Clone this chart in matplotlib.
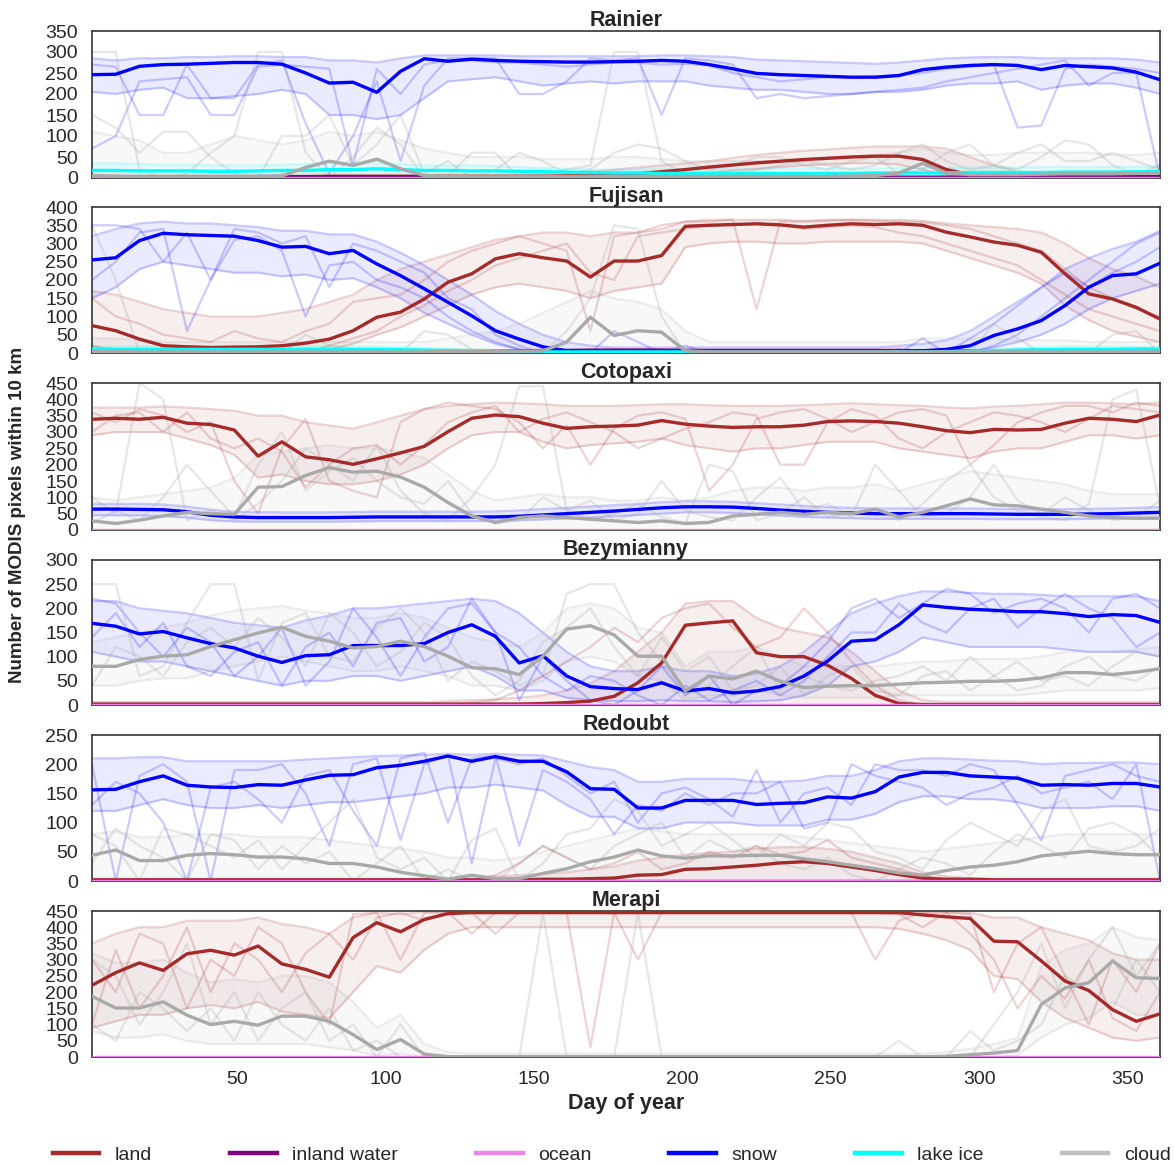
import matplotlib
matplotlib.use("Agg")
import matplotlib.pyplot as plt
from matplotlib.lines import Line2D

plt.rcParams["font.family"] = ["Liberation Sans", "DejaVu Sans"]

# 8-day composite periods (day of year)
DAYS = list(range(1, 362, 8))

CLASSES = ["land", "inland water", "ocean", "snow", "lake ice", "cloud"]
COLORS = {
    "land": "#a52a2a",
    "inland water": "#800080",
    "ocean": "#ee82ee",
    "snow": "#0000ff",
    "lake ice": "#00ffff",
    "cloud": "#a9a9a9",
}

VOLCANOES = ["Rainier", "Fujisan", "Cotopaxi", "Bezymianny", "Redoubt", "Merapi"]
YMAX = [350, 400, 450, 300, 250, 450]

ZERO = [0, 0, 0, 0, 0, 0, 0, 0, 0, 0, 0, 0, 0, 0, 0, 0, 0, 0, 0, 0, 0, 0, 0,
        0, 0, 0, 0, 0, 0, 0, 0, 0, 0, 0, 0, 0, 0, 0, 0, 0, 0, 0, 0, 0, 0, 0]

# ---------------- Rainier ----------------
RAINIER_SNOW = [246, 247, 266, 270, 271, 273, 275, 275, 271, 250,
                226, 228, 204, 254, 284, 278, 283, 280, 278, 277,
                276, 276, 277, 278, 280, 278, 270, 260, 249, 246,
                244, 242, 240, 240, 244, 258, 264, 268, 270, 268,
                258, 268, 265, 262, 252, 234]
RAINIER_LAND = [3, 3, 3, 3, 3, 3, 3, 3, 3, 3, 4, 4, 4, 4, 4, 4, 4, 4, 4, 4,
                5, 5, 6, 10, 15, 20, 26, 31, 36, 40, 44, 47, 50, 52, 52, 44,
                20, 8, 5, 4, 4, 3, 3, 3, 3, 3]
RAINIER_CLOUD = [5, 4, 3, 3, 3, 3, 3, 4, 5, 25, 40, 30, 45, 22, 6,
                 4, 3, 3, 3, 3, 3, 3, 4, 4, 4, 4, 4, 4, 4, 4, 4, 4, 5, 6,
                 12, 35, 12, 8, 8, 8, 9, 10, 10, 10, 11, 12]
RAINIER_ICE = [18, 18, 17, 17, 17, 16, 16, 17, 18, 18, 20, 20, 22, 20, 18,
               18, 17, 17, 16, 15, 14, 13, 12, 12, 11, 11, 11, 11, 11, 11,
               11, 11, 11, 12, 12, 12, 12, 13, 13, 13, 13, 14, 14, 14, 15, 15]
RAINIER_WATER = [3, 3, 3, 3, 3, 3, 3, 3, 3, 3, 3, 3, 3, 3, 3, 3, 3, 3, 3, 3,
                 2, 2, 2, 2, 2, 2, 2, 2, 2, 2, 2, 2, 2, 2, 2, 2, 2,
                 3, 3, 3, 3, 3, 3, 3, 3, 3]

RAINIER_SNOW_LO = [205, 200, 210, 215, 190, 190, 195, 200, 210, 200,
                   150, 150, 140, 150, 190, 230, 235, 240, 230, 220,
                   225, 230, 225, 230, 230, 230, 220, 215, 210, 210,
                   205, 200, 200, 205, 205, 210, 220, 225, 225, 230,
                   210, 220, 225, 225, 215, 200]
RAINIER_SNOW_HI = [285, 280, 285, 285, 288, 288, 290, 290, 288, 288,
                   280, 280, 275, 285, 292, 292, 292, 292, 290, 290,
                   290, 290, 290, 290, 292, 292, 290, 288, 282, 280,
                   278, 276, 274, 272, 275, 280, 285, 287, 288, 288,
                   285, 285, 285, 285, 282, 275]
RAINIER_CLOUD_HI = [110, 100, 90, 60, 60, 80, 100, 90, 80, 90,
                    110, 100, 110, 90, 70, 60, 50, 50, 50, 45,
                    45, 45, 50, 50, 45, 40, 40, 40, 40, 40,
                    40, 45, 50, 55, 60, 70, 60, 55, 55, 60,
                    60, 60, 60, 55, 55, 60]
RAINIER_ICE_HI = [35, 35, 33, 32, 32, 30, 30, 30, 32, 33,
                  35, 35, 35, 33, 30, 30, 30, 28, 26, 24,
                  22, 20, 20, 20, 20, 20, 20, 20, 20, 22,
                  22, 22, 22, 22, 24, 24, 24, 25, 25, 25,
                  26, 26, 26, 27, 27, 28]
RAINIER_LAND_LO = [0, 0, 0, 0, 0, 0, 0, 0, 0, 0, 0, 0, 0, 0, 0, 0, 0, 0, 0, 0,
                   0, 0, 0, 2, 5, 8, 12, 18, 22, 26, 30, 33, 35, 35, 32, 20,
                   5, 0, 0, 0, 0, 0, 0, 0, 0, 0]
RAINIER_LAND_HI = [8, 8, 8, 8, 8, 8, 8, 8, 8, 8, 8, 8, 8, 8, 8, 8, 8, 8, 8, 10,
                   12, 15, 20, 25, 30, 35, 40, 48, 55, 60, 65, 68, 72, 75, 75,
                   75, 70, 50, 30, 15, 10, 8, 8, 8, 8, 8]

# single years that stray far from the mean
RAINIER_SNOW_Y1 = [70, 100, 230, 235, 240, 150, 150, 265, 270, 265,
                   260, 30, 260, 200, 270, 280, 280, 275, 275, 270,
                   265, 270, 275, 275, 270, 272, 268, 250, 240, 230,
                   235, 240, 240, 242, 245, 250, 260, 265, 270, 120,
                   125, 260, 270, 265, 260, 250]
RAINIER_SNOW_Y2 = [270, 265, 150, 150, 270, 190, 190, 270, 280, 130,
                   10, 100, 230, 40, 220, 285, 285, 285, 200, 200,
                   230, 285, 280, 285, 150, 285, 280, 270, 190, 200,
                   190, 195, 200, 205, 210, 215, 230, 240, 250, 260,
                   270, 280, 220, 250, 250, 0]
RAINIER_CLOUD_Y1 = [300, 300, 20, 0, 10, 60, 100, 300, 300, 60,
                    0, 50, 120, 80, 0, 5, 60, 60, 0, 10,
                    20, 30, 300, 300, 40, 10, 10, 10, 20, 30,
                    40, 30, 20, 30, 60, 80, 40, 20, 30, 60,
                    80, 40, 40, 60, 40, 20]
RAINIER_CLOUD_Y2 = [150, 120, 60, 110, 110, 50, 10, 0, 100, 100,
                    150, 30, 80, 150, 10, 40, 0, 20, 60, 40,
                    10, 20, 60, 80, 70, 40, 20, 30, 50, 50,
                    30, 20, 40, 50, 10, 20, 60, 80, 30, 20,
                    50, 90, 80, 30, 10, 30]

# ---------------- Fujisan ----------------
FUJISAN_SNOW = [255, 261, 308, 328, 324, 322, 320, 308, 290, 292,
                272, 281, 244, 212, 176, 139, 102, 61, 38, 17,
                6, 4, 3, 3, 3, 3, 3, 3, 3, 3,
                3, 3, 3, 3, 4, 6, 10, 20, 48, 66,
                89, 130, 180, 212, 217, 246]
FUJISAN_LAND = [75, 61, 38, 20, 17, 15, 16, 17, 20, 27,
                38, 61, 98, 112, 148, 194, 217, 258, 272, 261,
                252, 208, 252, 252, 267, 347, 350, 352, 354, 351,
                345, 350, 354, 352, 354, 350, 331, 318, 304, 295,
                276, 217, 162, 148, 125, 93]
FUJISAN_CLOUD = [4, 4, 3, 3, 3, 3, 3, 3, 3, 3, 3, 3, 3, 3, 3, 4, 4, 5, 5, 6,
                 30, 98, 48, 61, 57, 6, 3, 3, 3, 3, 3, 3, 3, 3, 3, 3, 3, 3,
                 3, 3, 3, 3, 3, 3, 3, 3]
FUJISAN_ICE = [10, 10, 10, 10, 10, 10, 10, 10, 10, 10, 10, 10, 10, 9, 8, 7,
               6, 5, 4, 3, 3, 3, 3, 3, 3, 3, 3, 3, 3, 3, 3, 3, 3, 3, 3, 3,
               4, 5, 6, 8, 9, 10, 10, 10, 11, 11]
FUJISAN_WATER = [2, 2, 2, 2, 2, 2, 2, 2, 2, 2, 2, 2, 2, 2, 3, 3, 4, 5, 6, 7,
                 7, 8, 8, 8, 8, 7, 7, 7, 7, 7, 7, 7, 7, 7, 7, 6, 6, 5, 4, 3,
                 2, 2, 2, 2, 2, 2]

FUJISAN_SNOW_LO = [150, 180, 230, 250, 240, 230, 220, 220, 210, 215,
                   200, 205, 180, 150, 110, 80, 50, 25, 10, 3,
                   0, 0, 0, 0, 0, 0, 0, 0, 0, 0,
                   0, 0, 0, 0, 0, 0, 0, 3, 15, 30,
                   50, 80, 120, 150, 170, 190]
FUJISAN_SNOW_HI = [320, 340, 355, 360, 355, 355, 350, 345, 335, 335,
                   325, 325, 305, 275, 240, 200, 160, 115, 80, 50,
                   30, 20, 15, 15, 15, 15, 15, 15, 15, 15,
                   15, 15, 15, 15, 20, 25, 35, 60, 100, 140,
                   180, 230, 260, 285, 305, 335]
FUJISAN_LAND_LO = [20, 10, 5, 0, 0, 0, 0, 0, 0, 5,
                   10, 25, 50, 70, 100, 130, 160, 180, 190, 180,
                   170, 150, 170, 180, 190, 290, 300, 305, 305, 300,
                   300, 305, 305, 305, 305, 300, 280, 260, 240, 220,
                   190, 130, 90, 60, 45, 30]
FUJISAN_LAND_HI = [170, 160, 140, 120, 110, 100, 100, 100, 110, 120,
                   140, 160, 200, 230, 250, 270, 290, 310, 320, 330,
                   330, 320, 330, 330, 340, 360, 365, 365, 365, 365,
                   362, 365, 365, 365, 365, 362, 355, 350, 345, 340,
                   330, 300, 260, 230, 210, 180]
FUJISAN_CLOUD_HI = [40, 40, 35, 30, 30, 30, 30, 30, 30, 30,
                    30, 30, 30, 30, 30, 40, 50, 60, 80, 110,
                    140, 170, 150, 140, 120, 60, 30, 30, 30, 30,
                    30, 30, 30, 30, 30, 40, 40, 40, 40, 35,
                    35, 35, 30, 30, 30, 30]
FUJISAN_ICE_HI = [18, 18, 18, 18, 18, 18, 18, 18, 18, 18,
                  18, 18, 18, 16, 14, 12, 10, 8, 7, 6,
                  6, 6, 6, 6, 6, 6, 6, 6, 6, 6,
                  6, 6, 6, 6, 6, 6, 8, 10, 12, 14,
                  16, 18, 18, 18, 18, 18]

FUJISAN_SNOW_Y1 = [350, 350, 340, 250, 330, 200, 340, 330, 300, 320,
                   180, 300, 280, 250, 220, 150, 120, 50, 20, 0,
                   0, 0, 0, 0, 0, 20, 0, 0, 0, 0,
                   0, 0, 0, 0, 0, 40, 0, 0, 20, 50,
                   100, 150, 200, 250, 300, 330]
FUJISAN_SNOW_Y2 = [200, 250, 330, 340, 60, 200, 310, 320, 280, 100,
                   240, 250, 200, 180, 150, 100, 60, 30, 10, 0,
                   0, 0, 60, 30, 0, 0, 0, 0, 0, 0,
                   0, 0, 0, 0, 10, 0, 0, 40, 80, 130,
                   180, 220, 180, 220, 250, 290]
FUJISAN_LAND_Y1 = [150, 100, 80, 50, 40, 30, 60, 40, 30, 60,
                   80, 140, 150, 160, 200, 250, 280, 300, 320, 300,
                   280, 60, 320, 330, 350, 360, 360, 365, 120, 360,
                   360, 362, 365, 362, 360, 358, 350, 340, 320, 300,
                   280, 230, 180, 150, 120, 100]
FUJISAN_LAND_Y2 = [20, 0, 0, 0, 0, 0, 0, 10, 0, 0,
                   20, 40, 60, 100, 130, 170, 200, 240, 260, 280,
                   300, 220, 200, 320, 330, 340, 350, 350, 355, 350,
                   340, 345, 350, 345, 330, 320, 300, 280, 260, 240,
                   200, 160, 120, 100, 80, 60]
FUJISAN_CLOUD_Y1 = [350, 200, 0, 0, 0, 0, 20, 0, 0, 50,
                    20, 10, 0, 0, 60, 50, 10, 0, 0, 0,
                    60, 150, 350, 340, 100, 0, 0, 0, 0, 0,
                    0, 0, 0, 0, 0, 0, 0, 0, 80, 40,
                    0, 0, 0, 50, 60, 0]

# ---------------- Cotopaxi ----------------
COTOPAXI_LAND = [339, 342, 339, 345, 327, 323, 306, 226, 270, 224,
                 215, 201, 218, 236, 256, 301, 342, 352, 347, 327,
                 311, 316, 318, 321, 335, 324, 318, 314, 316, 316,
                 321, 332, 334, 332, 327, 316, 304, 298, 308, 306,
                 308, 327, 342, 339, 332, 352]
COTOPAXI_CLOUD = [28, 20, 30, 43, 54, 50, 48, 131, 133, 167,
                  191, 177, 180, 162, 131, 84, 43, 23, 38, 43,
                  38, 33, 28, 23, 28, 20, 23, 43, 48, 54,
                  48, 54, 50, 64, 40, 54, 74, 95, 77, 74,
                  64, 54, 43, 38, 36, 36]
COTOPAXI_SNOW = [64, 64, 63, 62, 56, 45, 40, 38, 38, 38,
                 38, 39, 40, 40, 40, 40, 40, 40, 42, 46,
                 50, 54, 58, 63, 68, 71, 71, 70, 66, 61,
                 57, 54, 52, 50, 50, 50, 50, 50, 49, 48,
                 48, 48, 49, 50, 52, 54]

COTOPAXI_LAND_LO = [290, 300, 300, 300, 280, 260, 230, 160, 170, 150,
                    140, 140, 150, 170, 200, 250, 290, 300, 300, 270,
                    250, 260, 265, 270, 280, 260, 250, 240, 250, 250,
                    260, 270, 270, 270, 250, 240, 230, 220, 240, 250,
                    250, 270, 290, 290, 280, 290]
COTOPAXI_LAND_HI = [375, 375, 375, 378, 375, 370, 365, 350, 350, 330,
                    320, 310, 330, 350, 370, 380, 385, 390, 388, 385,
                    380, 380, 380, 382, 385, 385, 382, 380, 380, 380,
                    382, 385, 388, 385, 382, 380, 375, 372, 378, 380,
                    385, 390, 390, 388, 385, 390]
COTOPAXI_CLOUD_HI = [100, 90, 100, 110, 120, 130, 160, 230, 240, 250,
                     260, 250, 250, 240, 220, 170, 120, 90, 100, 110,
                     100, 100, 90, 90, 100, 90, 100, 120, 130, 130,
                     120, 130, 130, 140, 120, 140, 160, 180, 170, 160,
                     150, 140, 120, 110, 110, 110]
COTOPAXI_SNOW_LO = [45, 45, 45, 42, 38, 30, 26, 25, 25, 25,
                    25, 26, 27, 27, 27, 27, 27, 28, 30, 32,
                    35, 38, 42, 46, 50, 54, 54, 52, 48, 44,
                    40, 38, 36, 34, 34, 34, 34, 34, 33, 33,
                    33, 33, 34, 35, 36, 38]
COTOPAXI_SNOW_HI = [80, 80, 80, 78, 72, 62, 56, 55, 54, 54,
                    54, 55, 56, 56, 56, 56, 56, 57, 60, 64,
                    68, 72, 76, 80, 85, 88, 88, 86, 82, 78,
                    74, 70, 68, 66, 66, 66, 66, 66, 65, 64,
                    64, 64, 65, 66, 68, 70]

COTOPAXI_LAND_Y1 = [360, 330, 370, 350, 300, 330, 150, 50, 250, 340,
                    150, 120, 100, 330, 370, 390, 380, 370, 330, 250,
                    320, 200, 310, 350, 360, 340, 120, 200, 340, 360,
                    370, 340, 300, 330, 360, 370, 350, 200, 260, 330,
                    360, 380, 380, 360, 390, 380]
COTOPAXI_LAND_Y2 = [300, 350, 360, 300, 360, 280, 250, 280, 240, 130,
                    200, 250, 260, 200, 260, 330, 360, 380, 300, 340,
                    360, 330, 300, 250, 280, 310, 330, 360, 350, 200,
                    200, 330, 370, 350, 280, 250, 300, 330, 360, 350,
                    330, 300, 340, 380, 370, 360]
COTOPAXI_CLOUD_Y1 = [100, 50, 450, 400, 30, 60, 30, 80, 150, 250,
                     200, 150, 260, 120, 50, 30, 100, 200, 440, 440,
                     60, 30, 50, 80, 40, 20, 200, 180, 30, 50,
                     100, 40, 50, 60, 30, 80, 150, 200, 100, 60,
                     40, 30, 80, 400, 430, 70]
COTOPAXI_CLOUD_Y2 = [20, 60, 30, 100, 200, 120, 40, 200, 300, 120,
                     180, 220, 150, 100, 80, 150, 50, 20, 30, 100,
                     60, 90, 30, 50, 150, 60, 40, 30, 100, 160,
                     60, 80, 40, 200, 120, 40, 50, 100, 200, 90,
                     50, 100, 60, 30, 40, 90]

# ---------------- Bezymianny ----------------
BEZYMIANNY_SNOW = [169, 163, 147, 152, 139, 127, 118, 101, 88, 102,
                   104, 123, 123, 123, 127, 150, 166, 142, 87, 102,
                   60, 38, 34, 32, 46, 29, 34, 25, 29, 38,
                   60, 91, 132, 135, 166, 207, 202, 198, 196, 193,
                   193, 189, 183, 187, 185, 171]
BEZYMIANNY_CLOUD = [80, 80, 94, 101, 104, 121, 135, 149, 161, 142,
                    132, 118, 121, 132, 121, 101, 77, 75, 63, 101,
                    157, 164, 145, 101, 101, 29, 60, 54, 70, 49,
                    36, 39, 40, 40, 43, 46, 47, 49, 49, 51,
                    56, 67, 67, 63, 68, 75]
BEZYMIANNY_LAND = [2, 2, 2, 2, 2, 2, 2, 2, 2, 2, 2, 2, 2, 2, 2, 2, 2, 2, 2, 3,
                   5, 8, 18, 46, 87, 165, 170, 174, 108, 100,
                   100, 82, 55, 20, 3, 1, 1, 1, 1, 1, 1, 1, 1, 1, 1, 1]

BEZYMIANNY_SNOW_LO = [110, 100, 90, 90, 80, 70, 60, 50, 40, 50,
                      50, 60, 60, 50, 60, 70, 80, 60, 30, 30,
                      15, 10, 8, 8, 10, 8, 8, 6, 8, 10,
                      20, 40, 80, 90, 110, 140, 130, 120, 120, 120,
                      120, 115, 110, 110, 110, 100]
BEZYMIANNY_SNOW_HI = [215, 215, 200, 195, 190, 180, 170, 165, 160, 175,
                      185, 200, 200, 205, 210, 215, 220, 215, 190, 150,
                      110, 80, 70, 70, 80, 70, 70, 60, 65, 80,
                      110, 150, 190, 210, 225, 235, 235, 232, 230, 230,
                      228, 225, 225, 225, 225, 215]
BEZYMIANNY_CLOUD_LO = [40, 40, 50, 55, 55, 70, 80, 90, 100, 90,
                       80, 70, 70, 80, 70, 60, 40, 40, 30, 50,
                       90, 100, 90, 60, 50, 10, 20, 20, 30, 20,
                       15, 15, 15, 15, 20, 20, 20, 20, 20, 20,
                       25, 30, 30, 30, 30, 35]
BEZYMIANNY_CLOUD_HI = [130, 140, 150, 160, 170, 185, 195, 200, 205, 195,
                       190, 180, 180, 190, 180, 160, 140, 130, 120, 150,
                       200, 210, 200, 160, 150, 80, 110, 110, 120, 100,
                       80, 80, 80, 80, 85, 90, 90, 95, 95, 95,
                       100, 110, 110, 110, 115, 120]
BEZYMIANNY_LAND_HI = [6, 6, 6, 6, 6, 6, 6, 6, 6, 6, 6, 6, 6, 6, 6, 8, 10, 12,
                      15, 20, 30, 45, 70, 110, 150, 210, 215, 215, 180, 160,
                      150, 140, 110, 70, 30, 10, 6, 6, 6, 6, 6, 6, 6, 6, 6, 6]

BEZYMIANNY_SNOW_Y1 = [220, 210, 150, 100, 160, 130, 60, 100, 160, 40,
                      90, 200, 140, 60, 140, 200, 210, 150, 10, 100,
                      50, 10, 0, 30, 80, 20, 60, 0, 30, 40,
                      80, 130, 200, 220, 180, 210, 240, 230, 190, 210,
                      220, 200, 150, 220, 230, 200]
BEZYMIANNY_SNOW_Y2 = [140, 190, 120, 170, 80, 60, 110, 130, 40, 120,
                      150, 80, 170, 180, 90, 120, 220, 150, 120, 60,
                      30, 60, 50, 20, 0, 40, 10, 30, 50, 20,
                      50, 100, 150, 150, 210, 170, 150, 200, 220, 160,
                      200, 230, 200, 180, 120, 150]
BEZYMIANNY_CLOUD_Y1 = [250, 250, 60, 80, 170, 250, 250, 50, 170, 190,
                       100, 90, 160, 200, 150, 50, 90, 70, 40, 60,
                       230, 250, 250, 150, 90, 20, 40, 80, 120, 30,
                       60, 40, 30, 50, 60, 80, 50, 100, 60, 30,
                       40, 80, 100, 60, 50, 80]
BEZYMIANNY_CLOUD_Y2 = [40, 120, 100, 60, 130, 160, 120, 180, 140, 80,
                       190, 150, 80, 110, 170, 140, 60, 20, 50, 130,
                       160, 200, 120, 60, 140, 70, 100, 30, 40, 80,
                       20, 60, 80, 30, 20, 60, 70, 30, 60, 90,
                       50, 60, 40, 80, 110, 100]
BEZYMIANNY_LAND_Y1 = [0, 0, 0, 0, 0, 0, 0, 0, 0, 0,
                      0, 0, 0, 0, 0, 0, 5, 10, 30, 60,
                      90, 120, 160, 130, 180, 200, 210, 160, 120, 140,
                      200, 150, 90, 40, 10, 0, 0, 0, 0, 0,
                      0, 0, 0, 0, 0, 0]

# ---------------- Redoubt ----------------
REDOUBT_SNOW = [156, 157, 170, 180, 164, 161, 160, 165, 164, 173,
                181, 182, 194, 198, 205, 214, 205, 213, 205, 205,
                187, 158, 157, 125, 125, 138, 138, 138, 131, 133,
                134, 144, 142, 153, 178, 186, 186, 180, 178, 176,
                164, 165, 164, 167, 167, 161]
REDOUBT_CLOUD = [44, 53, 35, 35, 44, 47, 45, 41, 41, 38,
                 30, 30, 24, 15, 9, 3, 10, 4, 4, 13,
                 21, 33, 41, 53, 43, 39, 43, 43, 44, 44,
                 38, 33, 27, 21, 14, 10, 18, 24, 27, 33,
                 43, 47, 51, 47, 45, 45]
REDOUBT_LAND = [2, 2, 2, 2, 2, 2, 2, 2, 2, 2, 2, 2, 2, 2, 2, 2, 2, 2, 2, 3,
                3, 4, 5, 10, 11, 20, 21, 24, 27, 31, 33, 30, 24, 18, 11, 5,
                3, 3, 2, 2, 2, 2, 2, 2, 2, 2]

REDOUBT_SNOW_LO = [120, 120, 130, 140, 130, 125, 125, 130, 125, 130,
                   135, 135, 140, 145, 150, 160, 160, 165, 160, 155,
                   130, 110, 110, 90, 90, 100, 100, 100, 95, 95,
                   95, 105, 105, 115, 135, 145, 145, 140, 140, 135,
                   125, 125, 125, 128, 128, 120]
REDOUBT_SNOW_HI = [210, 210, 212, 212, 205, 205, 205, 205, 205, 208,
                   210, 212, 214, 215, 216, 218, 216, 218, 216, 215,
                   205, 195, 190, 170, 170, 175, 175, 175, 170, 170,
                   172, 180, 180, 190, 205, 210, 210, 208, 206, 205,
                   200, 202, 202, 203, 203, 200]
REDOUBT_CLOUD_HI = [80, 85, 75, 75, 80, 80, 80, 75, 75, 75,
                    70, 65, 60, 55, 50, 40, 40, 35, 40, 50,
                    60, 70, 80, 90, 85, 80, 80, 80, 80, 80,
                    75, 70, 65, 60, 55, 50, 55, 60, 65, 70,
                    75, 80, 80, 80, 80, 80]
REDOUBT_LAND_HI = [4, 4, 4, 4, 4, 4, 4, 4, 4, 4, 4, 4, 4, 4, 4, 5, 6, 8, 10,
                   12, 15, 20, 25, 35, 40, 45, 48, 50, 55, 58, 58, 55, 50,
                   40, 30, 15, 8, 5, 4, 4, 4, 4, 4, 4, 4, 4]

REDOUBT_SNOW_Y1 = [200, 0, 180, 200, 170, 0, 190, 190, 200, 150,
                   60, 200, 210, 70, 200, 215, 30, 210, 200, 210,
                   180, 150, 170, 100, 150, 160, 140, 110, 190, 100,
                   150, 160, 130, 200, 190, 190, 180, 200, 190, 130,
                   70, 180, 190, 200, 180, 170]
REDOUBT_SNOW_Y2 = [130, 170, 150, 100, 0, 160, 170, 140, 100, 180,
                   190, 120, 60, 210, 220, 100, 210, 215, 60, 190,
                   170, 140, 80, 130, 120, 150, 130, 150, 150, 170,
                   90, 100, 200, 180, 170, 160, 130, 150, 160, 180,
                   150, 160, 170, 140, 200, 0]
REDOUBT_CLOUD_Y1 = [80, 60, 0, 90, 80, 60, 40, 70, 20, 60,
                    100, 140, 40, 20, 40, 0, 70, 90, 0, 30,
                    80, 90, 140, 120, 60, 80, 100, 70, 40, 80,
                    60, 100, 90, 50, 40, 20, 70, 100, 80, 60,
                    120, 140, 60, 50, 60, 90]
REDOUBT_CLOUD_Y2 = [30, 90, 60, 40, 0, 80, 70, 20, 60, 30,
                    50, 0, 30, 60, 0, 20, 0, 0, 30, 60,
                    40, 20, 60, 80, 100, 40, 70, 50, 60, 30,
                    20, 40, 10, 0, 20, 40, 30, 10, 50, 80,
                    60, 40, 90, 100, 80, 40]
REDOUBT_LAND_Y1 = [0, 0, 0, 0, 0, 0, 0, 0, 0, 0,
                   0, 0, 0, 0, 0, 0, 0, 10, 30, 60,
                   40, 20, 30, 50, 20, 30, 50, 40, 60, 45,
                   50, 70, 40, 30, 20, 10, 0, 0, 0, 0,
                   0, 0, 0, 0, 0, 0]

# ---------------- Merapi ----------------
MERAPI_LAND = [221, 260, 290, 267, 318, 329, 314, 342, 287, 270,
               246, 368, 414, 386, 424, 442, 445, 445, 445, 445,
               445, 445, 445, 445, 445, 445, 445, 445, 445, 445,
               445, 445, 445, 445, 445, 438, 432, 427, 357, 355,
               296, 234, 205, 146, 110, 133]
MERAPI_CLOUD = [187, 151, 151, 170, 129, 100, 110, 98, 126, 126,
                110, 69, 23, 54, 9, 1, 1, 1, 1, 1,
                1, 1, 1, 1, 1, 1, 1, 1, 1, 1,
                1, 1, 1, 1, 1, 1, 2, 7, 12, 20,
                162, 213, 229, 296, 244, 242]

MERAPI_LAND_LO = [90, 110, 130, 130, 150, 160, 150, 170, 140, 130,
                  120, 200, 280, 260, 330, 380, 400, 400, 400, 400,
                  400, 400, 400, 400, 400, 400, 400, 400, 400, 400,
                  400, 400, 400, 400, 395, 380, 360, 330, 250, 240,
                  170, 120, 90, 60, 50, 60]
MERAPI_LAND_HI = [350, 380, 400, 400, 420, 420, 420, 430, 410, 400,
                  380, 430, 445, 440, 448, 448, 448, 448, 448, 448,
                  448, 448, 448, 448, 448, 448, 448, 448, 448, 448,
                  448, 448, 448, 448, 448, 448, 448, 445, 430, 430,
                  400, 380, 360, 320, 300, 300]
MERAPI_CLOUD_LO = [80, 60, 60, 70, 50, 40, 40, 40, 40, 40,
                   30, 20, 5, 10, 0, 0, 0, 0, 0, 0,
                   0, 0, 0, 0, 0, 0, 0, 0, 0, 0,
                   0, 0, 0, 0, 0, 0, 0, 0, 0, 5,
                   60, 100, 120, 170, 130, 130]
MERAPI_CLOUD_HI = [320, 290, 290, 300, 260, 230, 240, 230, 250, 250,
                   230, 170, 90, 130, 40, 15, 10, 10, 10, 10,
                   10, 10, 10, 10, 10, 10, 10, 10, 10, 10,
                   10, 10, 10, 10, 10, 10, 15, 25, 40, 60,
                   280, 330, 350, 400, 370, 360]

MERAPI_LAND_Y1 = [300, 200, 380, 350, 150, 300, 250, 400, 350, 200,
                  100, 440, 445, 300, 445, 445, 445, 380, 445, 445,
                  445, 30, 445, 445, 445, 445, 445, 445, 445, 445,
                  445, 445, 445, 445, 440, 400, 445, 440, 200, 350,
                  400, 250, 100, 300, 200, 350]
MERAPI_LAND_Y2 = [100, 330, 150, 250, 400, 200, 350, 300, 200, 320,
                  380, 300, 430, 445, 420, 445, 380, 445, 445, 445,
                  445, 445, 445, 300, 445, 445, 445, 445, 445, 445,
                  445, 445, 445, 300, 420, 445, 445, 380, 300, 150,
                  250, 180, 300, 120, 80, 200]
MERAPI_CLOUD_Y1 = [300, 250, 100, 200, 350, 100, 200, 50, 150, 200,
                   50, 100, 0, 100, 0, 0, 0, 0, 0, 445,
                   0, 0, 0, 0, 0, 0, 0, 0, 0, 0,
                   0, 0, 0, 0, 0, 0, 0, 0, 100, 200,
                   350, 150, 300, 400, 250, 350]
MERAPI_CLOUD_Y2 = [100, 50, 200, 150, 80, 150, 50, 200, 100, 50,
                   150, 20, 50, 0, 0, 0, 0, 0, 0, 0,
                   0, 0, 0, 445, 0, 0, 0, 0, 0, 0,
                   0, 0, 0, 0, 50, 0, 0, 80, 20, 50,
                   100, 250, 200, 150, 300, 200]

# Mean pixel counts per class
MEANS = {
    "Rainier": {"land": RAINIER_LAND, "inland water": RAINIER_WATER, "ocean": ZERO,
                "snow": RAINIER_SNOW, "lake ice": RAINIER_ICE, "cloud": RAINIER_CLOUD},
    "Fujisan": {"land": FUJISAN_LAND, "inland water": FUJISAN_WATER, "ocean": ZERO,
                "snow": FUJISAN_SNOW, "lake ice": FUJISAN_ICE, "cloud": FUJISAN_CLOUD},
    "Cotopaxi": {"land": COTOPAXI_LAND, "ocean": ZERO, "snow": COTOPAXI_SNOW,
                 "cloud": COTOPAXI_CLOUD},
    "Bezymianny": {"land": BEZYMIANNY_LAND, "ocean": ZERO, "snow": BEZYMIANNY_SNOW,
                   "cloud": BEZYMIANNY_CLOUD},
    "Redoubt": {"land": REDOUBT_LAND, "inland water": ZERO, "ocean": ZERO,
                "snow": REDOUBT_SNOW, "cloud": REDOUBT_CLOUD},
    "Merapi": {"land": MERAPI_LAND, "ocean": ZERO, "cloud": MERAPI_CLOUD},
}

# Year-to-year spread (low, high) of the individual-year lines
SPREAD = {
    "Rainier": {"snow": (RAINIER_SNOW_LO, RAINIER_SNOW_HI),
                "cloud": (ZERO, RAINIER_CLOUD_HI),
                "lake ice": (ZERO, RAINIER_ICE_HI),
                "land": (RAINIER_LAND_LO, RAINIER_LAND_HI)},
    "Fujisan": {"snow": (FUJISAN_SNOW_LO, FUJISAN_SNOW_HI),
                "land": (FUJISAN_LAND_LO, FUJISAN_LAND_HI),
                "cloud": (ZERO, FUJISAN_CLOUD_HI),
                "lake ice": (ZERO, FUJISAN_ICE_HI)},
    "Cotopaxi": {"land": (COTOPAXI_LAND_LO, COTOPAXI_LAND_HI),
                 "cloud": (ZERO, COTOPAXI_CLOUD_HI),
                 "snow": (COTOPAXI_SNOW_LO, COTOPAXI_SNOW_HI)},
    "Bezymianny": {"snow": (BEZYMIANNY_SNOW_LO, BEZYMIANNY_SNOW_HI),
                   "cloud": (BEZYMIANNY_CLOUD_LO, BEZYMIANNY_CLOUD_HI),
                   "land": (ZERO, BEZYMIANNY_LAND_HI)},
    "Redoubt": {"snow": (REDOUBT_SNOW_LO, REDOUBT_SNOW_HI),
                "cloud": (ZERO, REDOUBT_CLOUD_HI),
                "land": (ZERO, REDOUBT_LAND_HI)},
    "Merapi": {"land": (MERAPI_LAND_LO, MERAPI_LAND_HI),
               "cloud": (MERAPI_CLOUD_LO, MERAPI_CLOUD_HI)},
}

# Individual years drawn as thin translucent lines
YEARS = {
    "Rainier": [("snow", RAINIER_SNOW_Y1), ("snow", RAINIER_SNOW_Y2),
                ("cloud", RAINIER_CLOUD_Y1), ("cloud", RAINIER_CLOUD_Y2)],
    "Fujisan": [("snow", FUJISAN_SNOW_Y1), ("snow", FUJISAN_SNOW_Y2),
                ("land", FUJISAN_LAND_Y1), ("land", FUJISAN_LAND_Y2),
                ("cloud", FUJISAN_CLOUD_Y1)],
    "Cotopaxi": [("land", COTOPAXI_LAND_Y1), ("land", COTOPAXI_LAND_Y2),
                 ("cloud", COTOPAXI_CLOUD_Y1), ("cloud", COTOPAXI_CLOUD_Y2)],
    "Bezymianny": [("snow", BEZYMIANNY_SNOW_Y1), ("snow", BEZYMIANNY_SNOW_Y2),
                   ("cloud", BEZYMIANNY_CLOUD_Y1), ("cloud", BEZYMIANNY_CLOUD_Y2),
                   ("land", BEZYMIANNY_LAND_Y1)],
    "Redoubt": [("snow", REDOUBT_SNOW_Y1), ("snow", REDOUBT_SNOW_Y2),
                ("cloud", REDOUBT_CLOUD_Y1), ("cloud", REDOUBT_CLOUD_Y2),
                ("land", REDOUBT_LAND_Y1)],
    "Merapi": [("land", MERAPI_LAND_Y1), ("land", MERAPI_LAND_Y2),
               ("cloud", MERAPI_CLOUD_Y1), ("cloud", MERAPI_CLOUD_Y2)],
}

W, H = 1174, 1166
AX_LEFT, AX_RIGHT = 92, 1160
AX_TOPS = [31, 207, 383, 560, 735, 911]
AX_BOTTOMS = [178, 353, 530, 705, 881, 1057]
TEXT = "#262626"

fig = plt.figure(figsize=(W / 100, H / 100), dpi=100)
fig.patch.set_facecolor("white")

axes = []
for i, name in enumerate(VOLCANOES):
    top, bot = AX_TOPS[i], AX_BOTTOMS[i]
    ax = fig.add_axes([AX_LEFT / W, 1 - bot / H, (AX_RIGHT - AX_LEFT) / W, (bot - top) / H])
    axes.append(ax)

    for cls in CLASSES:
        if cls in SPREAD[name]:
            lo, hi = SPREAD[name][cls]
            col = COLORS[cls]
            ax.fill_between(DAYS, lo, hi, color=col, alpha=0.08, lw=0, zorder=1)
            ax.plot(DAYS, lo, color=col, alpha=0.2, lw=1.6, zorder=1)
            ax.plot(DAYS, hi, color=col, alpha=0.2, lw=1.6, zorder=1)

    for cls, vals in YEARS[name]:
        col = COLORS[cls]
        a = 0.28 if cls == "cloud" else 0.2
        ax.plot(DAYS, vals, color=col, alpha=a, lw=1.6, zorder=2)

    for cls in CLASSES:
        if cls in MEANS[name]:
            ax.plot(DAYS, MEANS[name][cls], color=COLORS[cls], lw=2.4, zorder=3,
                    solid_joinstyle="round")

    ymax = YMAX[i]
    ax.set_xlim(1, 361)
    ax.set_ylim(0, ymax)
    ax.set_yticks(list(range(0, ymax + 1, 50)))
    ax.set_xticks([50, 100, 150, 200, 250, 300, 350])
    ax.tick_params(axis="both", length=0, labelsize=14, labelcolor=TEXT)
    ax.tick_params(axis="y", pad=10)
    ax.tick_params(axis="x", pad=10)
    if i < len(VOLCANOES) - 1:
        ax.tick_params(axis="x", labelbottom=False)
    for sp in ax.spines.values():
        sp.set_color("#333333")
        sp.set_linewidth(1.2)
    ax.set_title(name, fontsize=15.5, fontweight="bold", color=TEXT, pad=3)
    ax.set_facecolor("white")

axes[-1].set_xlabel("Day of year", fontsize=15.5, fontweight="bold", color=TEXT, labelpad=4)

fig.text(18 / W, 1 - 515 / H, "Number of MODIS pixels within 10 km", rotation=90,
         ha="center", va="center", fontsize=13.5, fontweight="bold", color=TEXT)

handles = [Line2D([0], [0], color=COLORS[c] if c != "cloud" else "#c0c0c0", lw=3.2)
           for c in CLASSES]
fig.legend(handles, CLASSES, loc="center left", bbox_to_anchor=(45 / W, 1 - 1155 / H),
           ncol=6, frameon=False, fontsize=14, handlelength=2.4, handletextpad=0.8,
           columnspacing=4.0, borderaxespad=0, labelcolor=TEXT)

fig.savefig("out.png", dpi=100)
